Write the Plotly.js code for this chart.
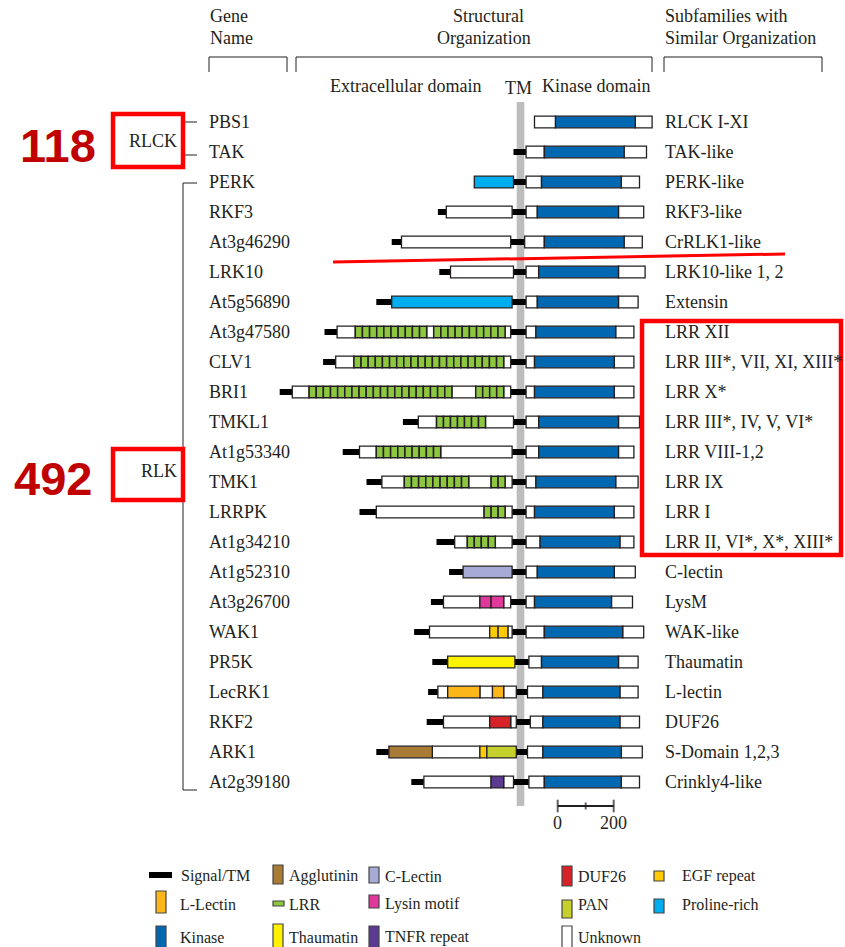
<!DOCTYPE html>
<html><head><meta charset="utf-8">
<script src="https://cdn.plot.ly/plotly-3.0.1.min.js"></script>
<style>html,body{margin:0;padding:0;background:#fff}#chart{width:845px;height:947px}</style>
</head><body><div id="chart"></div>
<script>
// ---------- DATA ----------
const genes = ['PBS1','TAK','PERK','RKF3','At3g46290','LRK10','At5g56890','At3g47580','CLV1','BRI1','TMKL1','At1g53340','TMK1','LRRPK','At1g34210','At1g52310','At3g26700','WAK1','PR5K','LecRK1','RKF2','ARK1','At2g39180'];
const subfamilies = ['RLCK I-XI','TAK-like','PERK-like','RKF3-like','CrRLK1-like','LRK10-like 1, 2','Extensin','LRR XII','LRR III*, VII, XI, XIII*','LRR X*','LRR III*, IV, V, VI*','LRR VIII-1,2','LRR IX','LRR I','LRR II, VI*, X*, XIII*','C-lectin','LysM','WAK-like','Thaumatin','L-lectin','DUF26','S-Domain 1,2,3','Crinkly4-like'];
const groups = ['RLCK','RLK'];
const groupCounts = [118, 492];

// segments: [gene index, start aa, end aa] relative to the TM centre
const signalTM = [[1,-25,20],[2,-25,20],[3,-295,-265],[3,-30,20],[4,-460,-425],[4,-35,15],[5,-290,-250],[5,-25,20],[6,-515,-460],[6,-30,20],[7,-700,-655],[7,-35,20],[8,-705,-660],[8,-35,20],[9,-860,-815],[9,-35,20],[10,-420,-365],[10,-25,20],[11,-635,-575],[11,-30,20],[12,-550,-495],[12,-30,20],[13,-575,-515],[13,-30,20],[14,-300,-235],[14,-30,20],[15,-255,-205],[15,-30,20],[16,-320,-275],[16,-35,20],[17,-380,-325],[17,-30,20],[18,-315,-260],[18,-20,30],[19,-330,-295],[19,-15,25],[20,-335,-275],[20,-15,35],[21,-515,-470],[21,-15,25],[22,-390,-345],[22,-25,30]];
const unknown = [[0,50,125],[0,410,470],[1,20,85],[1,370,450],[2,20,75],[2,360,425],[3,-265,-30],[3,20,60],[3,350,440],[4,-425,-35],[4,15,85],[4,370,435],[5,-250,-25],[5,20,65],[5,350,445],[6,20,60],[6,350,420],[7,-655,-590],[7,-335,-310],[7,-55,-35],[7,20,55],[7,340,405],[8,-660,-595],[8,-60,-35],[8,20,50],[8,335,405],[9,-815,-755],[9,-245,-160],[9,-60,-35],[9,20,50],[9,335,405],[10,-365,-300],[10,-125,-25],[10,20,65],[10,350,425],[11,-575,-515],[11,-285,-30],[11,20,65],[11,350,405],[12,-495,-415],[12,-185,-105],[12,-55,-30],[12,20,55],[12,340,420],[13,-515,-130],[13,-55,-30],[13,20,50],[13,335,405],[14,-235,-190],[14,-90,-30],[14,20,70],[14,355,405],[15,20,60],[15,335,410],[16,-275,-145],[16,-60,-35],[16,20,50],[16,325,400],[17,-325,-110],[17,-45,-30],[17,20,85],[17,365,440],[18,30,75],[18,350,420],[19,-295,-260],[19,-145,-100],[19,-60,-15],[19,25,80],[19,355,420],[20,-275,-110],[20,-35,-15],[20,35,80],[20,355,425],[21,-315,-145],[21,25,80],[21,360,435],[22,-345,-105],[22,-60,-25],[22,30,85],[22,360,425]];
const kinase = [[0,125,410],[1,85,370],[2,75,360],[3,60,350],[4,85,370],[5,65,350],[6,60,350],[7,55,340],[8,50,335],[9,50,335],[10,65,350],[11,65,350],[12,55,340],[13,50,335],[14,70,355],[15,60,335],[16,50,325],[17,85,365],[18,75,350],[19,80,355],[20,80,355],[21,80,360],[22,85,360]];
const prolineRich = [[2,-165,-25],[6,-460,-30]];
// LRR: [gene, start, end, number of repeats]
const lrr = [[7,-590,-335,10],[7,-310,-55,10],[8,-595,-60,21],[9,-755,-245,20],[9,-160,-60,4],[10,-300,-125,7],[11,-515,-285,9],[12,-415,-185,9],[12,-105,-55,2],[13,-130,-55,3],[14,-190,-90,4]];
const cLectin = [[15,-205,-30]];
const lysin = [[16,-145,-105],[16,-105,-60]];
const egf = [[17,-110,-80],[17,-80,-45],[21,-145,-120]];
const thaumatin = [[18,-260,-20]];
const lLectin = [[19,-260,-145],[19,-100,-60]];
const duf26 = [[20,-110,-35]];
const agglutinin = [[21,-470,-315]];
const pan = [[21,-120,-15]];
const tnfr = [[22,-105,-60]];
const scaleTicks = [0, 100, 200];
const scaleLabels = ['0', '', '200'];

const legendNames = ['Signal/TM','L-Lectin','Kinase','Agglutinin','LRR','Thaumatin','C-Lectin','Lysin motif','TNFR repeat','DUF26','PAN','Unknown','EGF repeat','Proline-rich'];

// ---------- STYLE / LAYOUT CONSTANTS ----------
const W = 845, H = 947;
const TM_PX = 520.5, PX_PER_AA = 0.28, ROW0_PX = 122, ROW_PX = 30;
const INK = '#231f20';
const SERIF = 'Liberation Serif, Times New Roman, serif';
const colors = {
  signal:'#000000', unknown:'#ffffff', kinase:'#0067b1', proline:'#00aeef', lrr:'#8dc63f',
  clectin:'#a8aad6', lysin:'#e0399b', egf:'#ffcb05', thaumatin:'#fff200', llectin:'#fbb61a',
  duf26:'#d6232a', agglutinin:'#a97c35', pan:'#c5d02f', tnfr:'#5d3a92'
};
const legendTypes = ['signal','llectin','kinase','agglutinin','lrr','thaumatin','clectin','lysin','tnfr','duf26','pan','unknown','egf','proline'];
// icon boxes [x0,y0,x1,y1] in px, text x in px, text y in px
const legendIcon = [[149,872,172,878],[156,891,166,913],[156,926,166,948],[273,865,283,884],[273,901,284,906],[273,924,283,948],[369,867,379,883],[369,895,379,908],[369,926,379,948],[562,866,572,886],[562,900,572,918],[562,926,572,948],[654,871,664,881],[654,899,664,913]];
const legendTextX = [179,178,178,287,287,287,383,383,383,576,576,576,680,680];
const legendTextY = [876,904,937,876,904,937,876,904,937,876,904,937,876,904];

const X = px => px / W;
const Y = py => 1 - py / H;
const rowOf = py => (py - ROW0_PX) / ROW_PX;
const aaOf = px => (px - TM_PX) / PX_PER_AA;

// ---------- TRACES ----------
const BAR_H = 0.39, SIG_H = 0.2;
function barTrace(arr, color, h, lw) {
  return {
    type:'bar', orientation:'h',
    y: arr.map(d => d[0]), base: arr.map(d => d[1]), x: arr.map(d => d[2] - d[1]),
    width: h, marker:{color:color, line:{color:INK, width:lw}},
    hoverinfo:'skip', showlegend:false
  };
}
const lrrRepeats = [];
lrr.forEach(d => {
  const step = (d[2] - d[1]) / d[3];
  for (let k = 0; k < d[3]; k++) lrrRepeats.push([d[0], d[1] + k*step, d[1] + (k+1)*step]);
});

const traces = [
  barTrace(signalTM, colors.signal, SIG_H, 0),
  barTrace(unknown, colors.unknown, BAR_H, 1.3),
  barTrace(kinase, colors.kinase, BAR_H, 1.3),
  barTrace(prolineRich, colors.proline, BAR_H, 1.3),
  barTrace(lrrRepeats, colors.lrr, BAR_H, 1.5),
  barTrace(cLectin, colors.clectin, BAR_H, 1.3),
  barTrace(lysin, colors.lysin, BAR_H, 1.3),
  barTrace(egf, colors.egf, BAR_H, 1.3),
  barTrace(thaumatin, colors.thaumatin, BAR_H, 1.3),
  barTrace(lLectin, colors.llectin, BAR_H, 1.3),
  barTrace(duf26, colors.duf26, BAR_H, 1.3),
  barTrace(agglutinin, colors.agglutinin, BAR_H, 1.3),
  barTrace(pan, colors.pan, BAR_H, 1.3),
  barTrace(tnfr, colors.tnfr, BAR_H, 1.3)
];

// scale bar
const SCALE_START = aaOf(557.7), SCALE_ROW = rowOf(806);
traces.push({
  type:'scatter', mode:'lines+markers',
  x: scaleTicks.map(t => SCALE_START + t), y: scaleTicks.map(() => SCALE_ROW),
  line:{color:INK, width:2},
  marker:{symbol:'line-ns', size:[9,5,9], line:{color:INK, width:2}, color:INK},
  hoverinfo:'skip', showlegend:false
});

// ---------- ANNOTATIONS ----------
const ann = [];
const txt = (text, xpx, ypx, anchor, size, extra) => Object.assign({
  text, x:X(xpx), y:Y(ypx), xref:'paper', yref:'paper', xanchor:anchor, yanchor:'middle',
  showarrow:false, font:{family:SERIF, size:size, color:INK}
}, extra || {});

genes.forEach((g, i) => ann.push({text:g, x:X(207), y:i, xref:'paper', yref:'y', xanchor:'left', yanchor:'middle', showarrow:false, font:{family:SERIF, size:18, color:INK}}));
subfamilies.forEach((s, i) => ann.push({text:s, x:X(663), y:i, xref:'paper', yref:'y', xanchor:'left', yanchor:'middle', showarrow:false, font:{family:SERIF, size:18, color:INK}}));

ann.push(txt('Gene', 208, 16, 'left', 18));
ann.push(txt('Name', 208, 38, 'left', 18));
ann.push(txt('Structural', 488, 16, 'center', 18));
ann.push(txt('Organization', 484, 38, 'center', 18));
ann.push(txt('Subfamilies with', 663, 16, 'left', 18));
ann.push(txt('Similar Organization', 663, 38, 'left', 18));
ann.push(txt('Extracellular domain', 405, 86, 'center', 18));
ann.push(txt('TM', 518, 88, 'center', 18));
ann.push(txt('Kinase domain', 596, 86, 'center', 18));

ann.push(txt(groups[0], 153, 141, 'center', 18));
ann.push(txt(groups[1], 159, 471, 'center', 18));
ann.push(txt(String(groupCounts[0]), 58, 145, 'center', 47, {font:{family:'Liberation Sans, Arial, sans-serif', size:47, color:'#c00000', weight:'bold'}}));
ann.push(txt(String(groupCounts[1]), 53, 478, 'center', 47, {font:{family:'Liberation Sans, Arial, sans-serif', size:47, color:'#c00000', weight:'bold'}}));

scaleTicks.forEach((t, i) => {
  if (scaleLabels[i]) ann.push({text:scaleLabels[i], x:SCALE_START + t, y:rowOf(823), xref:'x', yref:'y', xanchor:'center', yanchor:'middle', showarrow:false, font:{family:SERIF, size:18, color:INK}});
});

legendNames.forEach((n, i) => ann.push(txt(n, legendTextX[i], legendTextY[i], 'left', 16)));

// ---------- SHAPES ----------
const shapes = [];
const pline = (x0,y0,x1,y1,color,w) => ({type:'line', xref:'paper', yref:'paper', x0:X(x0), y0:Y(y0), x1:X(x1), y1:Y(y1), line:{color, width:w}});
const ppath = (pts, color, w) => ({type:'path', xref:'paper', yref:'paper', path: pts.map((p,i) => (i ? 'L' : 'M') + X(p[0]) + ',' + Y(p[1])).join(' '), line:{color, width:w}});
const prect = (x0,y0,x1,y1,fill,lc,lw) => ({type:'rect', xref:'paper', yref:'paper', x0:X(x0), y0:Y(y0), x1:X(x1), y1:Y(y1), fillcolor:fill, line:{color:lc, width:lw}});

// TM band
shapes.push({type:'rect', xref:'x', yref:'y', layer:'below', x0:aaOf(516.7), x1:aaOf(524.3), y0:rowOf(102), y1:rowOf(806), fillcolor:'#bdbdbd', line:{width:0}});

// header brackets
shapes.push(ppath([[209,72],[209,57],[287,57],[287,72]], INK, 1));
shapes.push(ppath([[296,72],[296,57],[652,57],[652,72]], INK, 1));
shapes.push(ppath([[664,72],[664,57],[822,57],[822,72]], INK, 1));

// tree lines
shapes.push(pline(183,122,197,122,INK,1));
shapes.push(pline(183,155,197,155,INK,1));
shapes.push(pline(183,122,183,155,INK,1));
shapes.push(pline(183,183,197,183,INK,1));
shapes.push(pline(183,183,183,790,INK,1));
shapes.push(pline(183,790,197,790,INK,1));

// red annotations
shapes.push(prect(113,114,183,167,'rgba(0,0,0,0)','#ff0000',4.5));
shapes.push(prect(113,449,183,500,'rgba(0,0,0,0)','#ff0000',4.5));
shapes.push(prect(642,321,841,555,'rgba(0,0,0,0)','#ff0000',4.5));
shapes.push(pline(333,262,785,254,'#ff0000',3));

// legend icons
legendTypes.forEach((t, i) => {
  const b = legendIcon[i];
  shapes.push(prect(b[0], b[1], b[2], b[3], colors[t], t === 'signal' ? colors.signal : '#444', t === 'signal' ? 0 : 1.2));
});

const layout = {
  width: W, height: H,
  margin:{l:0, r:0, t:0, b:0, pad:0},
  paper_bgcolor:'#ffffff', plot_bgcolor:'#ffffff',
  barmode:'overlay',
  showlegend:false,
  xaxis:{range:[aaOf(0), aaOf(W)], visible:false, fixedrange:true, domain:[0,1]},
  yaxis:{range:[rowOf(H), rowOf(0)], visible:false, fixedrange:true, domain:[0,1]},
  annotations: ann,
  shapes: shapes
};

Plotly.newPlot('chart', traces, layout, {staticPlot:true, displayModeBar:false});
</script>
</body></html>
